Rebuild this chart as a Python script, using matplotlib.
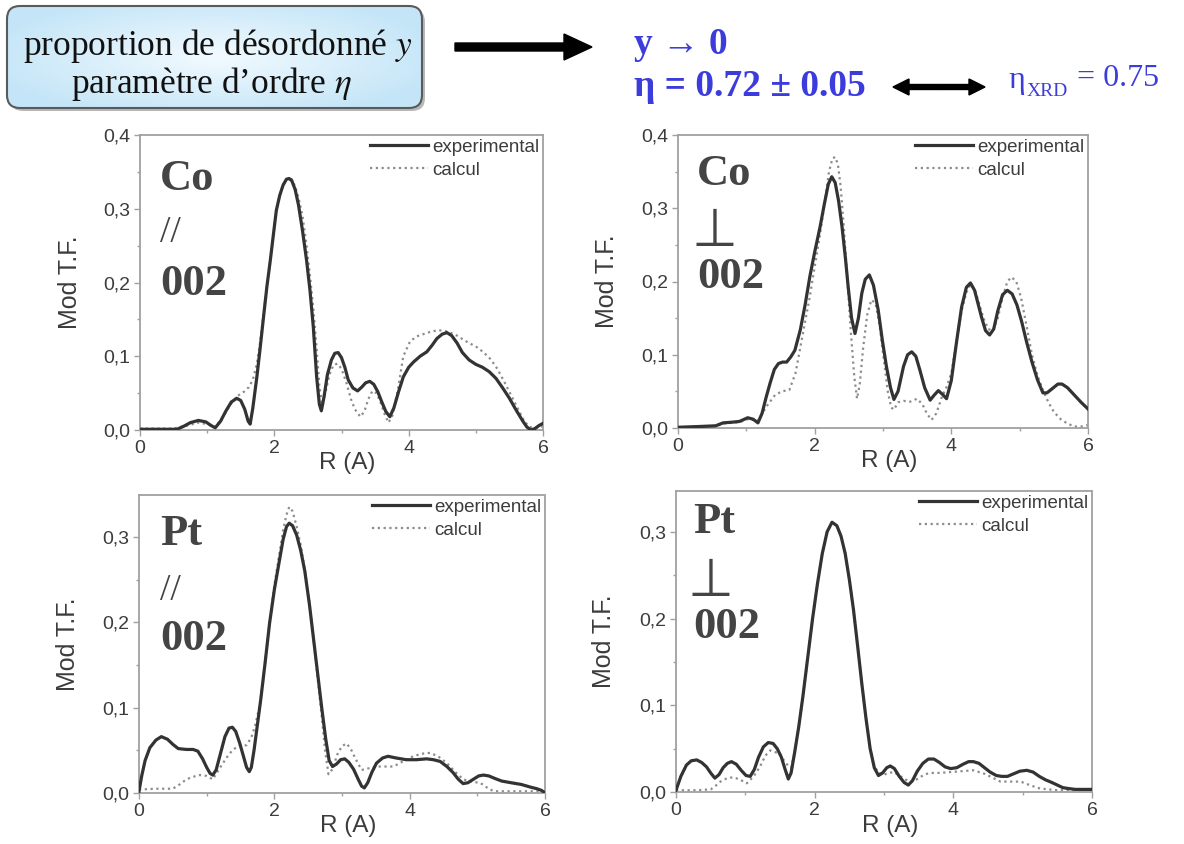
import numpy as np
import matplotlib
matplotlib.use("Agg")
import matplotlib.pyplot as plt
from matplotlib.patches import FancyBboxPatch, FancyArrow
from matplotlib.ticker import FixedLocator, FuncFormatter

plt.rcParams['font.family'] = ['Liberation Sans', 'DejaVu Sans']
plt.rcParams['mathtext.fontset'] = 'stix'

# ---------------- data ----------------
x_ticks = [0, 2, 4, 6]
y_ticks_top = [0.0, 0.1, 0.2, 0.3, 0.4]
y_ticks_bottom = [0.0, 0.1, 0.2, 0.3]
legend_labels = ["experimental", "calcul"]

# Co // 002
co_par_exp_R = [0, 0.3, 0.55, 0.65, 0.75, 0.87, 0.98, 1.06, 1.12, 1.2,
                1.28, 1.36, 1.44, 1.5, 1.56, 1.61, 1.64, 1.68, 1.74, 1.79,
                1.84, 1.89, 1.94, 1.99, 2.03, 2.08, 2.13, 2.18, 2.22, 2.26,
                2.31, 2.36, 2.42, 2.48, 2.53, 2.58, 2.63, 2.67, 2.7, 2.74,
                2.79, 2.85, 2.9, 2.95, 3.0, 3.05, 3.1, 3.17, 3.24, 3.3,
                3.36, 3.42, 3.48, 3.54, 3.6, 3.66, 3.72, 3.78, 3.85, 3.92,
                4.0, 4.07, 4.17, 4.27, 4.35, 4.42, 4.5, 4.57, 4.64, 4.72,
                4.8, 4.9, 5.0, 5.1, 5.2, 5.3, 5.4, 5.5, 5.6, 5.7,
                5.76, 5.82, 5.88, 5.94, 6.0]
co_par_exp_v = [0.001, 0.001, 0.001, 0.005, 0.01, 0.013, 0.011, 0.006, 0.003, 0.012,
                0.026, 0.038, 0.043, 0.04, 0.028, 0.012, 0.008, 0.03, 0.072, 0.112,
                0.154, 0.195, 0.23, 0.268, 0.298, 0.318, 0.332, 0.34, 0.341, 0.338,
                0.326, 0.305, 0.27, 0.23, 0.19, 0.14, 0.072, 0.035, 0.026, 0.045,
                0.075, 0.095, 0.104, 0.105, 0.098, 0.085, 0.068, 0.057, 0.053, 0.058,
                0.064, 0.066, 0.062, 0.052, 0.038, 0.025, 0.018, 0.03, 0.052, 0.072,
                0.085, 0.092, 0.1, 0.106, 0.115, 0.124, 0.13, 0.132, 0.128, 0.118,
                0.105, 0.095, 0.089, 0.085, 0.079, 0.07, 0.057, 0.043, 0.027, 0.012,
                0.004, 0.0, 0.002, 0.006, 0.009]
co_par_calc_R = [0, 0.5, 0.7, 0.87, 1.0, 1.12, 1.25, 1.35, 1.45, 1.55,
                 1.62, 1.68, 1.74, 1.79, 1.84, 1.89, 1.94, 1.99, 2.03, 2.08,
                 2.13, 2.18, 2.22, 2.26, 2.31, 2.36, 2.42, 2.48, 2.53, 2.58,
                 2.63, 2.67, 2.71, 2.76, 2.82, 2.88, 2.94, 3.0, 3.07, 3.14,
                 3.2, 3.28, 3.34, 3.4, 3.46, 3.52, 3.58, 3.64, 3.7, 3.76,
                 3.84, 3.92, 4.02, 4.12, 4.22, 4.32, 4.42, 4.52, 4.62, 4.72,
                 4.82, 4.92, 5.02, 5.12, 5.22, 5.32, 5.42, 5.52, 5.62, 5.72,
                 5.8, 5.9, 6.0]
co_par_calc_v = [0.002, 0.002, 0.006, 0.01, 0.008, 0.004, 0.02, 0.035, 0.046, 0.052,
                 0.058, 0.068, 0.09, 0.12, 0.158, 0.195, 0.23, 0.268, 0.298, 0.318,
                 0.332, 0.34, 0.342, 0.34, 0.33, 0.315, 0.29, 0.25, 0.21, 0.165,
                 0.11, 0.06, 0.035, 0.05, 0.075, 0.088, 0.09, 0.083, 0.065, 0.042,
                 0.028, 0.018, 0.025, 0.042, 0.053, 0.05, 0.038, 0.022, 0.01, 0.02,
                 0.055, 0.1, 0.12, 0.127, 0.13, 0.133, 0.135, 0.135, 0.132, 0.128,
                 0.122, 0.117, 0.112, 0.105, 0.096, 0.083, 0.066, 0.048, 0.03, 0.012,
                 0.004, 0.003, 0.005]

# Co perpendicular 002
co_perp_exp_R = [0, 0.3, 0.55, 0.66, 0.8, 0.9, 1.02, 1.1, 1.17, 1.23,
                 1.29, 1.35, 1.41, 1.47, 1.53, 1.59, 1.65, 1.71, 1.79, 1.86,
                 1.93, 2.0, 2.08, 2.14, 2.2, 2.25, 2.3, 2.35, 2.4, 2.45,
                 2.49, 2.54, 2.59, 2.64, 2.69, 2.74, 2.8, 2.86, 2.93, 2.99,
                 3.05, 3.11, 3.16, 3.22, 3.3, 3.36, 3.42, 3.48, 3.54, 3.61,
                 3.69, 3.75, 3.81, 3.87, 3.93, 4.0, 4.08, 4.15, 4.22, 4.28,
                 4.34, 4.39, 4.44, 4.5, 4.56, 4.62, 4.68, 4.75, 4.82, 4.89,
                 4.96, 5.03, 5.1, 5.18, 5.26, 5.34, 5.4, 5.48, 5.56, 5.62,
                 5.7, 5.8, 5.9, 6.0]
co_perp_exp_v = [0.001, 0.002, 0.003, 0.007, 0.008, 0.009, 0.014, 0.012, 0.007, 0.02,
                 0.042, 0.062, 0.08, 0.088, 0.09, 0.09, 0.097, 0.106, 0.134, 0.168,
                 0.207, 0.24, 0.275, 0.305, 0.333, 0.343, 0.335, 0.31, 0.275, 0.232,
                 0.193, 0.15, 0.129, 0.15, 0.184, 0.203, 0.209, 0.195, 0.161, 0.12,
                 0.084, 0.055, 0.039, 0.05, 0.084, 0.1, 0.104, 0.098, 0.079, 0.055,
                 0.038, 0.045, 0.051, 0.046, 0.04, 0.065, 0.12, 0.165, 0.192, 0.198,
                 0.188, 0.17, 0.152, 0.133, 0.127, 0.135, 0.16, 0.182, 0.188, 0.183,
                 0.168, 0.145, 0.118, 0.09, 0.066, 0.048, 0.048, 0.054, 0.06, 0.06,
                 0.055, 0.045, 0.035, 0.026]
co_perp_calc_R = [0, 0.55, 0.66, 0.9, 1.02, 1.17, 1.3, 1.42, 1.52, 1.63,
                  1.72, 1.8, 1.87, 1.93, 2.0, 2.08, 2.15, 2.21, 2.26, 2.3,
                  2.34, 2.38, 2.43, 2.48, 2.53, 2.58, 2.62, 2.66, 2.71, 2.77,
                  2.83, 2.89, 2.95, 3.01, 3.07, 3.12, 3.16, 3.22, 3.3, 3.4,
                  3.5, 3.58, 3.64, 3.71, 3.78, 3.86, 3.93, 4.0, 4.08, 4.15,
                  4.22, 4.28, 4.34, 4.4, 4.47, 4.54, 4.61, 4.68, 4.75, 4.82,
                  4.88, 4.95, 5.02, 5.1, 5.18, 5.26, 5.34, 5.42, 5.5, 5.6,
                  5.7, 5.8, 5.9, 6.0]
co_perp_calc_v = [0.001, 0.002, 0.006, 0.008, 0.012, 0.01, 0.03, 0.045, 0.05, 0.052,
                  0.075, 0.115, 0.15, 0.18, 0.22, 0.265, 0.31, 0.35, 0.368, 0.37,
                  0.36, 0.33, 0.27, 0.2, 0.13, 0.07, 0.04, 0.06, 0.11, 0.155,
                  0.175, 0.17, 0.14, 0.095, 0.05, 0.028, 0.025, 0.035, 0.037, 0.036,
                  0.04, 0.032, 0.02, 0.011, 0.02, 0.042, 0.056, 0.075, 0.12, 0.16,
                  0.185, 0.196, 0.19, 0.172, 0.15, 0.135, 0.133, 0.15, 0.178, 0.2,
                  0.206, 0.2, 0.178, 0.14, 0.1, 0.072, 0.052, 0.035, 0.022, 0.012,
                  0.006, 0.002, 0.002, 0.004]

# Pt // 002
pt_par_exp_R = [0, 0.04, 0.09, 0.16, 0.25, 0.33, 0.42, 0.5, 0.58, 0.7,
                0.8, 0.87, 0.94, 1.0, 1.05, 1.09, 1.14, 1.2, 1.27, 1.33,
                1.38, 1.43, 1.49, 1.54, 1.59, 1.63, 1.66, 1.7, 1.75, 1.8,
                1.86, 1.93, 2.0, 2.07, 2.13, 2.18, 2.22, 2.27, 2.33, 2.39,
                2.45, 2.52, 2.58, 2.64, 2.7, 2.76, 2.81, 2.86, 2.92, 2.98,
                3.04, 3.1, 3.17, 3.24, 3.29, 3.33, 3.38, 3.44, 3.51, 3.6,
                3.68, 3.8, 3.95, 4.1, 4.25, 4.35, 4.45, 4.55, 4.64, 4.72,
                4.79, 4.86, 4.94, 5.02, 5.09, 5.17, 5.26, 5.36, 5.5, 5.65,
                5.78, 5.88, 5.95, 6.0]
pt_par_exp_v = [0.002, 0.02, 0.038, 0.053, 0.062, 0.066, 0.063, 0.057, 0.052, 0.051,
                0.051, 0.049, 0.04, 0.03, 0.023, 0.021, 0.027, 0.045, 0.066, 0.076,
                0.077, 0.072, 0.058, 0.044, 0.03, 0.025, 0.03, 0.05, 0.08, 0.11,
                0.15, 0.199, 0.238, 0.27, 0.297, 0.312, 0.316, 0.313, 0.302, 0.284,
                0.26, 0.22, 0.18, 0.14, 0.1, 0.063, 0.038, 0.031, 0.034, 0.039,
                0.04, 0.036, 0.028, 0.016, 0.008, 0.006, 0.012, 0.024, 0.035, 0.041,
                0.043, 0.041, 0.039, 0.039, 0.04, 0.039, 0.037, 0.031, 0.024, 0.016,
                0.011, 0.012, 0.016, 0.02, 0.021, 0.02, 0.017, 0.014, 0.012, 0.01,
                0.007, 0.005, 0.003, 0.0]
pt_par_calc_R = [0, 0.25, 0.5, 0.6, 0.7, 0.8, 0.9, 1.0, 1.09, 1.2,
                 1.3, 1.39, 1.48, 1.59, 1.66, 1.72, 1.79, 1.86, 1.93, 2.0,
                 2.07, 2.13, 2.18, 2.22, 2.27, 2.33, 2.39, 2.45, 2.52, 2.58,
                 2.64, 2.7, 2.75, 2.8, 2.86, 2.93, 3.0, 3.07, 3.14, 3.2,
                 3.29, 3.4, 3.51, 3.64, 3.76, 3.9, 4.05, 4.18, 4.3, 4.42,
                 4.55, 4.67, 4.79, 4.92, 5.04, 5.15, 5.24, 5.5, 5.8, 6.0]
pt_par_calc_v = [0.004, 0.005, 0.005, 0.01, 0.016, 0.019, 0.021, 0.02, 0.016, 0.03,
                 0.042, 0.051, 0.055, 0.056, 0.065, 0.08, 0.105, 0.15, 0.2, 0.243,
                 0.278, 0.308, 0.326, 0.335, 0.33, 0.312, 0.29, 0.262, 0.222, 0.18,
                 0.135, 0.09, 0.05, 0.022, 0.028, 0.045, 0.055, 0.058, 0.05, 0.04,
                 0.027, 0.029, 0.031, 0.031, 0.031, 0.037, 0.043, 0.046, 0.047, 0.043,
                 0.035, 0.025, 0.016, 0.013, 0.012, 0.006, 0.002, 0.002, 0.002, 0.002]

# Pt perpendicular 002
pt_perp_exp_R = [0, 0.07, 0.15, 0.22, 0.3, 0.37, 0.44, 0.5, 0.56, 0.62,
                 0.68, 0.74, 0.8, 0.87, 0.94, 1.01, 1.07, 1.13, 1.19, 1.26,
                 1.33, 1.4, 1.46, 1.52, 1.57, 1.62, 1.66, 1.71, 1.77, 1.83,
                 1.9, 1.97, 2.04, 2.11, 2.18, 2.25, 2.32, 2.38, 2.44, 2.5,
                 2.56, 2.62, 2.68, 2.74, 2.8, 2.86, 2.92, 2.98, 3.04, 3.09,
                 3.15, 3.22, 3.29, 3.35, 3.41, 3.48, 3.56, 3.64, 3.72, 3.8,
                 3.88, 3.96, 4.05, 4.14, 4.22, 4.29, 4.37, 4.45, 4.53, 4.62,
                 4.7, 4.78, 4.87, 4.96, 5.06, 5.15, 5.24, 5.33, 5.42, 5.5,
                 5.58, 5.66, 5.76, 5.88, 6.0]
pt_perp_exp_v = [0.002, 0.018, 0.031, 0.036, 0.037, 0.034, 0.029, 0.022, 0.016, 0.02,
                 0.028, 0.033, 0.035, 0.032, 0.025, 0.019, 0.018, 0.026, 0.04, 0.052,
                 0.057, 0.056, 0.05, 0.04, 0.027, 0.015, 0.022, 0.045, 0.075, 0.11,
                 0.155, 0.2, 0.24, 0.275, 0.3, 0.311, 0.307, 0.295, 0.275, 0.245,
                 0.21, 0.168, 0.125, 0.085, 0.05, 0.028, 0.019, 0.022, 0.028, 0.03,
                 0.027, 0.018, 0.011, 0.008, 0.013, 0.024, 0.033, 0.038, 0.038, 0.034,
                 0.029, 0.027, 0.028, 0.032, 0.035, 0.035, 0.033, 0.028, 0.023, 0.019,
                 0.018, 0.018, 0.021, 0.024, 0.025, 0.023, 0.018, 0.014, 0.011, 0.008,
                 0.005, 0.004, 0.003, 0.003, 0.003]
pt_perp_calc_R = [0, 0.3, 0.5, 0.57, 0.64, 0.74, 0.83, 0.93, 1.02, 1.12,
                  1.21, 1.29, 1.36, 1.43, 1.5, 1.56, 1.62, 1.66, 1.71, 1.77,
                  1.83, 1.9, 1.97, 2.04, 2.11, 2.18, 2.25, 2.32, 2.38, 2.44,
                  2.5, 2.56, 2.62, 2.68, 2.74, 2.8, 2.86, 2.92, 3.0, 3.07,
                  3.14, 3.2, 3.26, 3.32, 3.38, 3.44, 3.5, 3.56, 3.62, 3.7,
                  3.8, 3.96, 4.12, 4.29, 4.45, 4.58, 4.68, 4.82, 4.97, 5.1,
                  5.25, 5.5, 5.75, 6.0]
pt_perp_calc_v = [0.002, 0.002, 0.003, 0.007, 0.012, 0.016, 0.017, 0.014, 0.01, 0.018,
                  0.029, 0.042, 0.048, 0.046, 0.044, 0.036, 0.03, 0.028, 0.045, 0.075,
                  0.11, 0.155, 0.2, 0.24, 0.275, 0.3, 0.311, 0.307, 0.295, 0.275,
                  0.245, 0.21, 0.168, 0.125, 0.085, 0.05, 0.03, 0.022, 0.02, 0.022,
                  0.023, 0.02, 0.017, 0.014, 0.012, 0.013, 0.016, 0.019, 0.021, 0.022,
                  0.022, 0.023, 0.024, 0.025, 0.021, 0.016, 0.012, 0.012, 0.012, 0.008,
                  0.004, 0.002, 0.002, 0.002]

# ---------------- figure ----------------
W, H = 1184, 844
fig = plt.figure(figsize=(W / 100, H / 100), dpi=100)
fig.patch.set_facecolor('white')

def px_rect(x0, y0, x1, y1):
    return [x0 / W, 1 - y1 / H, (x1 - x0) / W, (y1 - y0) / H]

EXP_COLOR = '#333333'
CALC_COLOR = '#8c8c8c'
TXT_COLOR = '#3c3c3c'
FRAME = '#a0a0a0'

panels = [
    dict(rect=px_rect(140, 135, 543, 430), ymax=0.4, yt=y_ticks_top,
         exp=(co_par_exp_R, co_par_exp_v), calc=(co_par_calc_R, co_par_calc_v),
         elem="Co", orient="par", lx=0.05, ly=(0.814, 0.637, 0.458)),
    dict(rect=px_rect(678, 135, 1088, 428), ymax=0.4, yt=y_ticks_top,
         exp=(co_perp_exp_R, co_perp_exp_v), calc=(co_perp_calc_R, co_perp_calc_v),
         elem="Co", orient="perp", lx=0.046, ly=(0.829, 0.622, 0.478)),
    dict(rect=px_rect(139, 495, 545, 793), ymax=0.349, yt=y_ticks_bottom,
         exp=(pt_par_exp_R, pt_par_exp_v), calc=(pt_par_calc_R, pt_par_calc_v),
         elem="Pt", orient="par", lx=0.052, ly=(0.832, 0.648, 0.48)),
    dict(rect=px_rect(676, 491, 1092, 792), ymax=0.347, yt=y_ticks_bottom,
         exp=(pt_perp_exp_R, pt_perp_exp_v), calc=(pt_perp_calc_R, pt_perp_calc_v),
         elem="Pt", orient="perp", lx=0.041, ly=(0.86, 0.651, 0.512)),
]

comma = FuncFormatter(lambda v, p: f"{v:.1f}".replace('.', ','))
serif = ['Liberation Serif', 'DejaVu Serif']

for P in panels:
    ax = fig.add_axes(P['rect'])
    l_calc, = ax.plot(*P['calc'], color=CALC_COLOR, lw=1.6, ls=(0, (1, 1.6)),
                      label=legend_labels[1], zorder=2)
    l_exp, = ax.plot(*P['exp'], color=EXP_COLOR, lw=2.3, label=legend_labels[0],
                     zorder=3, solid_joinstyle='round')
    ax.set_xlim(0, 6)
    ax.set_ylim(0, P['ymax'])
    ax.xaxis.set_major_locator(FixedLocator(x_ticks))
    ax.xaxis.set_minor_locator(FixedLocator([1, 3, 5]))
    ax.yaxis.set_major_locator(FixedLocator(P['yt']))
    ax.yaxis.set_minor_locator(FixedLocator([0.05, 0.15, 0.25, 0.35]))
    ax.yaxis.set_major_formatter(comma)
    ax.tick_params(which='major', direction='out', length=4, width=1, color=FRAME,
                   labelsize=14, labelcolor=TXT_COLOR, pad=3)
    ax.tick_params(which='minor', direction='out', length=2, width=1, color=FRAME)
    for s in ax.spines.values():
        s.set_color(FRAME)
        s.set_linewidth(1.3)
        s.set_linestyle((0, (2, 1)))
    ax.set_xlabel("R (A)", fontsize=17.5, color=TXT_COLOR)
    ax.set_ylabel("Mod T.F.", fontsize=18, color=TXT_COLOR)
    ax.xaxis.set_label_coords(0.515, -0.075)
    ax.yaxis.set_label_coords(-0.145, 0.5)
    leg = ax.legend(handles=[l_exp, l_calc], loc='upper right', bbox_to_anchor=(1.0, 1.0),
                    frameon=False, fontsize=13.5, handlelength=3.1, handletextpad=0.2,
                    labelspacing=0.3, borderaxespad=0.1, borderpad=0.1)
    for t in leg.get_texts():
        t.set_color(TXT_COLOR)

    # big panel labels
    tr = ax.transAxes
    lx = P['lx']
    y_elem, y_mid, y_002 = P['ly']
    ax.text(lx, y_elem, P['elem'], transform=tr, fontsize=32, fontweight='bold',
            family=serif, color='#444444', ha='left', va='baseline')
    if P['orient'] == 'par':
        ax.text(lx, y_mid, "//", transform=tr, fontsize=27, family=serif,
                color='#444444', ha='left', va='baseline')
    else:
        ax.text(lx - 0.014, y_mid, "\u22a5", transform=tr, fontsize=38, family=['DejaVu Sans'],
                color='#444444', ha='left', va='baseline')
    ax.text(lx, y_002, "002", transform=tr, fontsize=32, fontweight='bold',
            family=serif, color='#444444', ha='left', va='baseline')

# ---------------- header overlay ----------------
ov = fig.add_axes([0, 0, 1, 1])
ov.set_xlim(0, W)
ov.set_ylim(H, 0)
ov.axis('off')
ov.patch.set_alpha(0)

shadow = FancyBboxPatch((10, 9), 415, 102, boxstyle="round,pad=0,rounding_size=13",
                        fc='#b8b8b8', ec='none', zorder=1)
ov.add_patch(shadow)
box = FancyBboxPatch((7, 6), 415, 102, boxstyle="round,pad=0,rounding_size=13",
                     fc='none', ec='#5a5a5a', lw=1.5, zorder=3)
ov.add_patch(box)
gx = np.linspace(-1, 1, 200)
gy = np.linspace(-1, 1, 60)
GX, GY = np.meshgrid(gx, gy)
r = np.clip(np.sqrt((GX * 0.9) ** 2 + (GY * 0.8) ** 2), 0, 1)
c0 = np.array([0.95, 0.98, 1.0])
c1 = np.array([0.77, 0.90, 0.97])
img = c0[None, None, :] * (1 - r[..., None]) + c1[None, None, :] * r[..., None]
im = ov.imshow(img, extent=[7, 422, 108, 6], zorder=2, aspect='auto', interpolation='bilinear')
im.set_clip_path(box)

ov.text(218, 55, "proportion de désordonné $y$", fontsize=25.5, family=serif,
        color='#111111', ha='center', va='baseline', zorder=4)
ov.text(211, 93, "paramètre d\u2019ordre $\\eta$", fontsize=25.5, family=serif,
        color='#111111', ha='center', va='baseline', zorder=4)

ov.add_patch(FancyArrow(455, 47, 137, 0, width=8, head_width=26, head_length=28,
                        length_includes_head=True, color='black', zorder=4))

BLUE = '#3c3cdc'
ov.text(634, 54, "y \u2192 0", fontsize=27, fontweight='bold', family=serif,
        color=BLUE, ha='left', va='baseline')
ov.text(634, 96, "\u03b7 = 0.72 \u00b1 0.05", fontsize=27, fontweight='bold', family=serif,
        color=BLUE, ha='left', va='baseline')

ov.add_patch(FancyArrow(939, 87, -46, 0, width=5, head_width=16, head_length=16,
                        length_includes_head=True, color='black', zorder=4))
ov.add_patch(FancyArrow(939, 87, 46, 0, width=5, head_width=16, head_length=16,
                        length_includes_head=True, color='black', zorder=4))

ov.text(1008, 88, "\u03b7", fontsize=23, family=serif, color=BLUE, ha='left', va='baseline')
ov.text(1027, 96, "XRD", fontsize=14, family=serif, color=BLUE, ha='left', va='baseline')
ov.text(1077, 86, "= 0.75", fontsize=23, family=serif, color=BLUE, ha='left', va='baseline')

fig.savefig("out.png", dpi=100, facecolor='white')
